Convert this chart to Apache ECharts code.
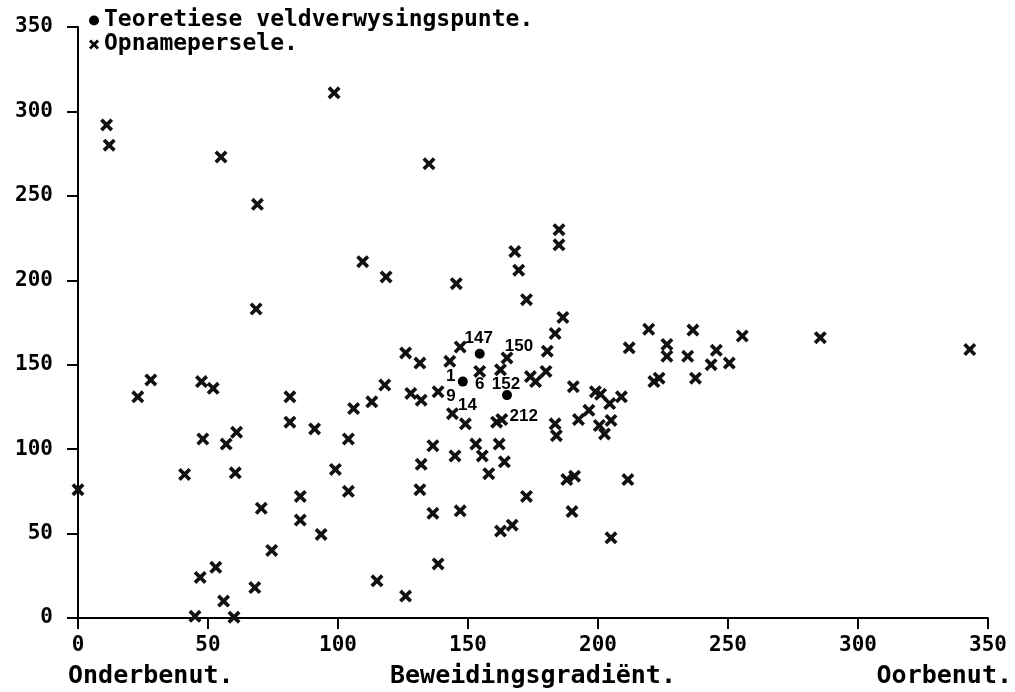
<!DOCTYPE html>
<html>
<head>
<meta charset="utf-8">
<script src="https://cdn.jsdelivr.net/npm/echarts@6/dist/echarts.min.js"></script>
<style>html,body{margin:0;padding:0;background:#fff;}#c{width:1015px;height:692px;}</style>
</head>
<body>
<div id="c"></div>
<script>
// ---- data ----
const axisTicks = [0, 50, 100, 150, 200, 250, 300, 350];
const seriesNames = ['Teoretiese veldverwysingspunte.', 'Opnamepersele.'];
const bottomTexts = ['Onderbenut.', 'Beweidingsgradiënt.', 'Oorbenut.'];

// Opnamepersele (crosses), unlabelled
const crossX = [0, 11, 12, 23, 28, 41, 45, 47.5, 48, 47, 52, 53, 55, 56, 57, 60, 60.5, 61, 68, 68.5,
  69, 70.5, 74.5, 81.5, 81.5, 85.5, 85.5, 91, 93.5, 98.5, 99, 104, 104, 106, 109.5, 113, 115, 118, 118.5, 126,
  126, 128, 131.5, 132, 132, 131.5, 135, 136.5, 136.5, 138.5, 143, 145, 145.5, 147, 147, 149, 153, 155.5, 158, 161,
  162, 162.5, 162.5, 164, 167, 168, 169.5, 172.5, 172.5, 174, 176, 180, 180.5, 183.5, 183.5, 184, 185, 185, 186.5, 188,
  191, 190, 190.5, 192.5, 196.5, 199, 201, 200.5, 202.5, 204.5, 205, 205, 209, 212, 211.5, 219.5, 221.5, 223.5, 226.5, 226.5,
  234.5, 236.5, 237.5, 243.5, 245.5, 250.5, 255.5, 285.5, 343];
const crossY = [76, 292, 280, 131, 141, 85, 1, 140, 106, 24, 136, 30, 273, 10, 103, 0.5, 86, 110, 18, 183,
  245, 65, 40, 131, 116, 72, 58, 112, 49.5, 311, 88, 106, 75, 124, 211, 128, 22, 138, 202, 13,
  157, 133, 76, 129, 91, 151, 269, 102, 62, 32, 152, 96, 198, 160.5, 63.5, 115, 103, 96, 85.5, 116,
  103, 147, 51.5, 92.5, 55, 217, 206, 188.5, 72, 143, 140, 146, 158, 168.5, 115, 108, 230, 221, 178, 82,
  84, 63, 137, 117.5, 123, 134, 132.5, 114, 109, 127, 117, 47.5, 131, 160, 82, 171, 140, 142, 162, 155,
  155, 170.5, 142, 150, 158.5, 151, 167, 166, 159];

// Opnamepersele with a number label
const labelCrossNames = ['150', '6', '9', '14', '212'];
const labelCrossX = [165, 154.5, 138.5, 144, 163];
const labelCrossY = [154, 146, 134, 121, 117.5];

// Teoretiese veldverwysingspunte (dots)
const dotNames = ['147', '1', '152'];
const dotX = [154.5, 148, 165];
const dotY = [156.5, 140, 132];

// ---- styling helpers (pixel offsets of the number labels) ----
const labelOffsets = {
  '147': [-1, -15], '1': [-12, -5], '152': [-1, -11],
  '150': [12, -12], '6': [0, 13], '9': [13, 5], '14': [15, -8], '212': [22, -3]
};
const CROSS = 'path://M2,0 L5,3 L8,0 L10,2 L7,5 L10,8 L8,10 L5,7 L2,10 L0,8 L3,5 L0,2 Z';
const MONO = 'DejaVu Sans Mono';

function numLabel(name) {
  return {
    show: true, position: 'inside', offset: labelOffsets[name],
    formatter: name, color: '#000', fontFamily: 'Liberation Sans', fontSize: 17, fontWeight: 'bold'
  };
}

const crossData = crossX.map((x, i) => ({ value: [x, crossY[i]] }))
  .concat(labelCrossX.map((x, i) => ({
    value: [x, labelCrossY[i]], name: labelCrossNames[i], label: numLabel(labelCrossNames[i])
  })));
const dotData = dotX.map((x, i) => ({ value: [x, dotY[i]], name: dotNames[i], label: numLabel(dotNames[i]) }));

const axisCommon = {
  type: 'value', min: 0, max: 350, interval: 50,
  axisLine: { show: true, onZero: false, lineStyle: { color: '#000', width: 2 } },
  axisTick: { show: true, length: 11, lineStyle: { color: '#000', width: 2 } },
  splitLine: { show: false },
  axisLabel: { color: '#000', fontFamily: MONO, fontWeight: 'bold', fontSize: 21,
    formatter: v => axisTicks.indexOf(v) >= 0 ? String(v) : '' }
};

const chart = echarts.init(document.getElementById('c'), null, { renderer: 'canvas' });
chart.setOption({
  backgroundColor: '#fff',
  animation: false,
  grid: { left: 78, right: 27, top: 27, bottom: 74, containLabel: false },
  xAxis: Object.assign({}, axisCommon, {
    axisLabel: Object.assign({}, axisCommon.axisLabel, { margin: 17 })
  }),
  yAxis: Object.assign({}, axisCommon, {
    axisLabel: Object.assign({}, axisCommon.axisLabel, { margin: 25 })
  }),
  legend: {
    orient: 'vertical', left: 84, top: 4, itemGap: 1, itemWidth: 10, itemHeight: 10,
    selectedMode: false,
    textStyle: { color: '#000', fontFamily: MONO, fontWeight: 'bold', fontSize: 23, padding: [0, 0, 0, 0] },
    data: [
      { name: seriesNames[0], icon: 'circle', itemStyle: { color: '#000' } },
      { name: seriesNames[1], icon: CROSS, itemStyle: { color: '#000' } }
    ]
  },
  graphic: [
    { type: 'text', left: 68, top: 664, style: { text: bottomTexts[0], fill: '#000', font: 'bold 25px "DejaVu Sans Mono"' } },
    { type: 'text', left: 390, top: 664, style: { text: bottomTexts[1], fill: '#000', font: 'bold 25px "DejaVu Sans Mono"' } },
    { type: 'text', right: 3, top: 664, style: { text: bottomTexts[2], fill: '#000', font: 'bold 25px "DejaVu Sans Mono"' } }
  ],
  series: [
    {
      name: seriesNames[0], type: 'scatter', symbol: 'circle', symbolSize: 10, clip: false,
      itemStyle: { color: '#000', opacity: 1 }, data: dotData, z: 3
    },
    {
      name: seriesNames[1], type: 'scatter', symbol: CROSS, symbolSize: 13, clip: false,
      itemStyle: { color: '#111', opacity: 1 }, data: crossData, z: 2
    }
  ]
});
</script>
</body>
</html>
